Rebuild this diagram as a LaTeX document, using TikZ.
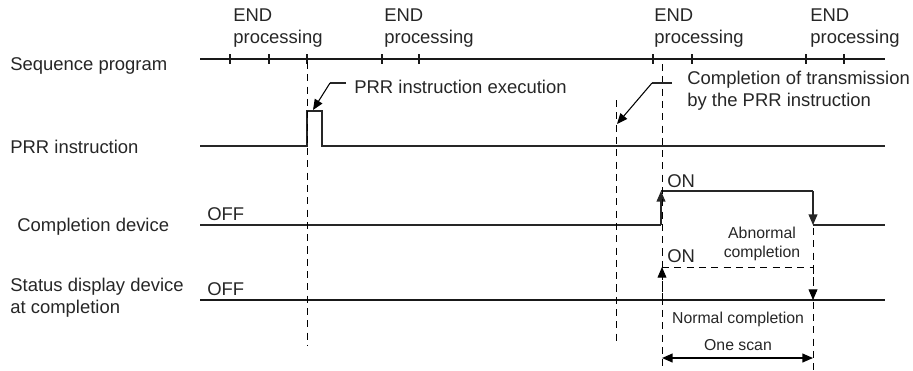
\documentclass[tikz,border=0pt]{standalone}
\usepackage{fontspec}
\setmainfont{Liberation Sans}
\usetikzlibrary{arrows.meta,positioning}

\begin{document}
\begin{tikzpicture}[
  x=0.02cm, y=-0.02cm,
  txt/.style={font=\fontsize{10.5}{12.5}\selectfont, inner sep=0pt, text=black!85},
  small/.style={font=\fontsize{9}{11}\selectfont, inner sep=0pt, text=black!85, align=center},
  sig/.style={line width=0.7pt, black!85},
  bold/.style={line width=1.1pt, black!90},
  guide/.style={dashed, dash pattern=on 4pt off 3pt, line width=0.5pt},
  tip/.style={-{Triangle[length=6pt, width=5pt]}},
  arrow/.style={-{Triangle[length=6pt, width=5pt]}, line width=0.6pt}
]
  \useasboundingbox (0,0) rectangle (913,370);

  % --- Row labels ---
  \node[txt, anchor=west] (lseq) at (10,66) {Sequence program};
  \node[txt, anchor=west] (lprr) at (10,147) {PRR instruction};
  \node[txt, anchor=west] (lcmp) at (17,227) {Completion device};
  \node[txt, anchor=west, align=left] (lsts) at (10,298) {Status display device\\at completion};

  % --- END processing labels ---
  \foreach \x/\n in {233/e1, 384/e2, 654/e3, 810/e4}
    \node[txt, anchor=north west, align=left] (\n) at (\x,8) {END\\processing};

  % --- Sequence program ---
  \coordinate (s0) at (200,59);
  \coordinate (s1) at (885,59);
  \draw[bold] (s0) -- (s1);
  \foreach \x in {230,269,307,382,419,653,692,806,844}
    \draw[bold, line width=0.8pt] (\x,54) -- (\x,64);

  % --- PRR instruction ---
  \coordinate (p0) at (200,146);
  \coordinate (pu) at (307,146);
  \coordinate (pt) at (307,111);
  \coordinate (pd) at (322,111);
  \coordinate (p1) at (885,146);
  \draw[sig] (p0) -- (pu) -- (pt) -- (pd) -- (322,146) -- (p1);

  % --- Completion device ---
  \coordinate (c0) at (200,225);
  \coordinate (cu) at (661,225);
  \coordinate (ct) at (661,191);
  \coordinate (cd) at (813,191);
  \coordinate (cb) at (813,225);
  \coordinate (c1) at (885,225);
  \draw[sig] (c0) -- (cu);
  \draw[sig, tip] (cu) -- (ct);
  \draw[sig] (ct) -- (cd);
  \draw[sig, tip] (cd) -- (cb);
  \draw[sig] (cb) -- (c1);
  \node[txt, anchor=south west] (coff) at (207,221) {OFF};
  \node[txt, anchor=south west] (con) at (667,188) {ON};

  % --- Status display device ---
  \coordinate (d0) at (200,300);
  \coordinate (d1) at (885,300);
  \coordinate (du) at (662,267);
  \coordinate (dd) at (813,267);
  \coordinate (db) at (813,300);
  \draw[bold] (d0) -- (d1);
  \draw[guide, tip] (662,300) -- (du);
  \draw[guide] (du) -- (dd);
  \draw[guide, tip] (dd) -- (db);
  \node[txt, anchor=south west] (doff) at (207,296) {OFF};
  \node[txt, anchor=south west] (don) at (667,263) {ON};

  % --- Timing guides ---
  \draw[guide] (307,62) -- (307,345);
  \draw[guide] (616,100) -- (616,345);
  \draw[guide] (662,64) -- (662,370);
  \draw[guide] (813,228) -- (813,370);

  % --- Callouts ---
  \node[txt, anchor=west] (exe) at (354,87) {PRR instruction execution};
  \coordinate (k1) at (330,83);
  \draw[sig, line width=0.6pt] (exe.west) ++(-8,-4) -- (k1);
  \draw[arrow] (k1) -- (313,110);

  \node[txt, anchor=west, align=left] (fin) at (687,91) {Completion of transmission\\by the PRR instruction};
  \coordinate (k2) at (652,83);
  \draw[sig, line width=0.6pt] (672,83) -- (k2);
  \draw[arrow] (k2) -- (617,124);

  % --- Result notes ---
  \node[small] (abn) at (762,244) {Abnormal\\completion};
  \node[small] (nrm) at (738,319) {Normal completion};
  \node[small] (scan) at (738,345) {One scan};
  \coordinate (a0) at (662,358);
  \coordinate (a1) at (813,358);
  \draw[{Triangle[length=6pt, width=5pt]}-{Triangle[length=6pt, width=5pt]}, line width=0.8pt] (a0) -- (a1);

\end{tikzpicture}
\end{document}
